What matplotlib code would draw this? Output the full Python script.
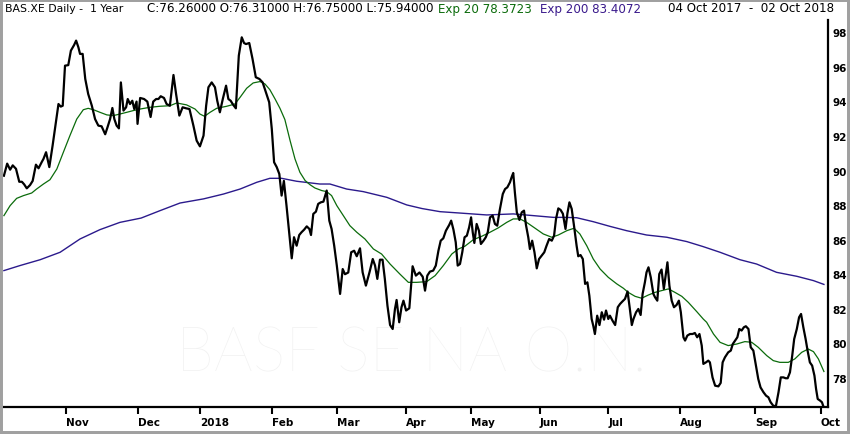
import numpy as np
import pandas as pd
import matplotlib
matplotlib.use('Agg')
import matplotlib.pyplot as plt
from matplotlib.patches import Rectangle

first_day = '2017-10-04'
last_day = '2018-10-02'
closed_days = ['2017-10-31', '2017-12-25', '2017-12-26', '2018-01-01',
               '2018-03-30', '2018-04-02', '2018-05-01', '2018-05-21']

price_ticks = [78, 80, 82, 84, 86, 88, 90, 92, 94, 96, 98]

# close (trading-day number, price)
close_day = [0, 1.0, 1.9, 2.7, 3.7, 4.7, 5.5, 6.2, 7.0, 8.0, 8.8, 9.8, 10.6, 11.6, 12.1, 12.9,
             13.9, 14.9, 15.9, 16.7, 17.4, 18.0, 18.7, 19.7, 20.5, 21.5, 22.1, 22.8, 23.3, 24.1,
             24.9, 25.8, 26.9, 27.9, 28.9, 29.9, 31.0, 31.7, 32.5, 33.2, 33.8, 34.5, 35.2, 35.8,
             36.6, 37.4, 37.9, 38.6, 39.3, 39.9, 40.6, 40.9, 41.7, 42.9, 43.9, 44.9, 45.7, 46.6,
             47.3, 48.0, 49.0, 49.8, 50.8, 51.9, 52.7, 53.7, 54.7, 55.8, 56.8, 58.0, 59.0, 60.0,
             61.1, 61.9, 62.6, 63.6, 64.6, 65.3, 66.1, 67.0, 68.0, 68.7, 69.4, 70.2, 71.0, 71.9,
             72.8, 73.5, 74.1, 75.1, 76.1, 77.1, 78.2, 79.2, 80.2, 81.2, 82.0, 82.7, 83.5, 84.3,
             85.0, 85.7, 86.5, 87.4, 88.1, 88.8, 89.6, 90.4, 91.1, 91.9, 92.7, 93.5, 94.0, 94.7,
             95.5, 96.2, 97.0, 97.8, 98.8, 99.6, 100.3, 101.1, 101.9, 102.9, 103.7, 104.4, 105.4,
             106.3, 107.2, 108.0, 109.0, 109.8, 110.8, 111.9, 112.9, 113.6, 114.3, 115.1, 115.9,
             116.6, 117.4, 118.2, 119.0, 119.7, 120.2, 121.0, 121.7, 122.3, 123.1, 124.1, 125.1,
             126.1, 127.2, 128.2, 128.9, 129.6, 130.4, 131.4, 132.2, 133.0, 133.7, 134.5, 135.3,
             136.3, 136.9, 137.6, 138.3, 138.9, 139.6, 140.3, 141.0, 141.7, 142.4, 143.0, 143.5,
             144.0, 144.7, 145.4, 146.0, 146.8, 147.5, 148.1, 148.8, 149.6, 150.3, 151.0, 151.8,
             152.7, 153.4, 154.1, 154.9, 155.4, 155.9, 156.4, 157.0, 157.8, 158.5, 159.2, 159.8,
             160.5, 161.0, 161.7, 162.4, 163.1, 163.8, 164.6, 165.4, 166.1, 166.9, 167.7, 168.4,
             169.0, 169.7, 170.4, 171.1, 171.9, 172.5, 173.1, 173.8, 174.5, 175.3, 175.8, 176.5,
             177.2, 177.9, 178.6, 179.2, 179.9, 180.4, 180.9, 181.6, 182.3, 183.0, 183.7, 184.3,
             185.0, 185.5, 186.3, 187.1, 187.9, 188.6, 189.3, 190.1, 190.9, 191.6, 192.2, 192.7,
             193.5, 194.2, 194.9, 195.5, 196.2, 196.7, 197.3, 198.0, 198.8, 199.3, 200.0, 200.6,
             201.3, 202.0, 202.7, 203.1, 203.7, 204.4, 205.1, 205.9, 206.6, 207.2, 208.0, 208.5,
             209.2, 210.0, 210.8, 211.5, 212.2, 212.9, 213.6, 214.1, 214.9, 215.6, 216.1, 216.9,
             217.7, 218.7, 219.4, 220.0, 220.7, 221.7, 222.5, 223.1, 223.8, 224.5, 225.1, 225.8,
             226.5, 227.1, 227.9, 228.6, 229.4, 230.2, 230.9, 231.6, 232.5, 233.3, 234.0, 234.7,
             235.5, 236.3, 237.1, 237.8, 238.6, 239.3, 239.9, 240.6, 241.3, 241.9, 242.7, 243.4,
             244.0, 244.7, 245.4, 246.0, 246.7, 247.4, 248.1, 248.6, 249.1, 249.8, 250.4, 251.0]
close_px = [89.7, 90.4, 90.05, 90.3, 90.1, 89.35, 89.35, 89.2, 88.97, 89.16, 89.4, 90.34, 90.13,
            90.5, 90.67, 91.06, 90.2, 91.44, 92.8, 93.85, 93.7, 93.75, 96.07, 96.1, 96.94, 97.27,
            97.52, 97.13, 96.75, 96.75, 95.3, 94.43, 93.76, 92.98, 92.6, 92.56, 92.1, 92.5, 92.98,
            93.62, 92.98, 92.6, 92.44, 95.1, 93.47, 93.66, 94.14, 93.85, 94.04, 93.56, 93.99, 92.7,
            94.2, 94.14, 93.99, 93.1, 93.99, 94.14, 94.14, 94.3, 94.2, 93.85, 93.75, 95.53, 94.43,
            93.18, 93.66, 93.6, 93.56, 92.6, 91.73, 91.4, 92.02, 93.75, 94.82, 95.1, 94.82, 94.04,
            93.37, 94.14, 94.91, 94.14, 94.04, 93.8, 93.6, 96.65, 97.71, 97.38, 97.32, 97.38,
            96.46, 95.4, 95.3, 95.1, 94.53, 93.95, 92.4, 90.48, 90.2, 89.8, 88.55, 89.4, 87.97,
            86.23, 84.92, 86.14, 85.65, 86.27, 86.43, 86.58, 86.77, 86.62, 86.27, 87.49, 87.62,
            88.07, 88.16, 88.2, 88.84, 87.1, 86.62, 85.65, 84.5, 82.86, 84.3, 84.0, 84.1, 85.27,
            85.36, 85.04, 85.5, 84.11, 83.34, 84.11, 84.88, 84.5, 83.73, 84.84, 84.84, 83.73,
            82.18, 81.06, 80.83, 81.99, 82.51, 81.22, 82.09, 82.47, 81.9, 82.03, 84.46, 83.92,
            84.1, 83.85, 83.05, 83.92, 84.15, 84.21, 84.5, 85.36, 85.94, 86.08, 86.52, 86.85,
            87.1, 86.58, 85.85, 84.5, 84.59, 85.27, 86.14, 86.23, 86.71, 87.29, 86.43, 85.81,
            86.91, 86.52, 85.75, 85.94, 86.14, 86.43, 87.29, 87.39, 86.91, 86.81, 87.74, 88.64,
            88.93, 89.03, 89.32, 89.61, 89.86, 88.74, 87.58, 87.14, 87.58, 87.68, 86.85, 86.14,
            85.46, 85.94, 85.27, 84.34, 84.88, 85.08, 85.27, 85.65, 86.04, 85.94, 86.23, 87.2,
            87.81, 87.72, 87.5, 86.62, 87.54, 88.16, 87.78, 86.81, 85.65, 85.04, 85.11, 84.88,
            83.44, 83.53, 82.76, 81.41, 81.02, 80.54, 81.6, 81.06, 81.8, 81.37, 81.9, 81.41,
            81.6, 81.31, 81.06, 82.09, 82.28, 82.42, 82.57, 83.0, 81.99, 81.06, 81.41, 81.8,
            81.99, 81.64, 82.86, 83.53, 84.11, 84.4, 83.82, 82.86, 82.67, 82.47, 84.01, 84.27,
            83.15, 84.11, 84.69, 83.34, 82.47, 82.09, 82.22, 82.47, 81.8, 80.35, 80.16, 80.45,
            80.54, 80.54, 80.6, 80.35, 80.54, 79.87, 78.81, 78.9, 79.0, 78.9, 78.03, 77.55, 77.51,
            77.71, 78.9, 79.19, 79.48, 79.58, 79.96, 80.16, 80.35, 80.83, 80.74, 80.93, 80.99,
            80.83, 79.77, 79.58, 78.71, 77.94, 77.45, 77.17, 76.97, 76.88, 76.59, 76.39, 76.36,
            77.17, 78.03, 78.03, 77.98, 77.98, 78.32, 79.29, 80.25, 80.83, 81.51, 81.7, 80.93,
            80.25, 79.58, 78.9, 78.71, 78.13, 77.36, 76.78, 76.69, 76.59, 76.26]

ema20_day = [0, 1.9, 3.9, 6.0, 8.5, 10.0, 12.1, 14.1, 16.2, 18.2, 20.2, 22.3, 24.3, 25.8, 27.4,
             29.4, 31.5, 33.5, 35.5, 37.6, 39.6, 41.7, 44.7, 47.8, 50.8, 52.9, 55.9, 58.5, 60.0,
             61.4, 63.1, 65.1, 68.2, 70.7, 72.3, 74.3, 76.3, 78.4, 79.9, 81.4, 83.0, 84.5, 86.0,
             87.6, 89.1, 90.6, 92.2, 93.7, 95.2, 97.3, 98.8, 100.3, 101.9, 103.9, 105.9, 108.0,
             110.5, 113.1, 115.6, 118.2, 121.2, 123.8, 126.3, 129.4, 132.0, 134.5, 137.1, 139.1,
             141.1, 143.7, 146.2, 148.8, 151.3, 153.9, 155.9, 158.0, 160.0, 162.6, 165.1, 167.7,
             169.7, 172.3, 174.5, 176.3, 178.4, 180.4, 182.5, 185.0, 187.6, 189.6, 191.1, 193.2,
             195.2, 197.3, 199.3, 201.3, 203.4, 205.4, 207.5, 209.5, 212.1, 214.1, 215.1, 217.2,
             219.2, 221.7, 224.3, 226.8, 228.9, 230.9, 233.5, 235.5, 237.5, 240.1, 242.1, 244.2,
             246.2, 247.8, 249.3, 251.0]
ema20_px = [87.39, 87.97, 88.39, 88.55, 88.7, 88.93, 89.22, 89.47, 90.09, 91.06, 92.02, 92.98,
            93.52, 93.6, 93.52, 93.37, 93.22, 93.18, 93.27, 93.37, 93.47, 93.56, 93.66, 93.72,
            93.75, 93.91, 93.8, 93.56, 93.27, 93.14, 93.37, 93.6, 93.72, 93.85, 94.24, 94.76,
            95.07, 95.15, 95.01, 94.68, 94.14, 93.6, 92.95, 91.73, 90.67, 89.9, 89.42, 89.18,
            88.99, 88.84, 88.78, 88.55, 87.97, 87.39, 86.81, 86.43, 86.04, 85.46, 85.17, 84.59,
            84.01, 83.53, 83.53, 83.57, 83.92, 84.5, 85.17, 85.46, 85.62, 86.0, 86.19, 86.43,
            86.68, 87.0, 87.2, 87.2, 87.0, 86.66, 86.33, 86.14, 86.27, 86.52, 86.66, 86.33, 85.65,
            84.88, 84.3, 83.82, 83.44, 83.19, 82.95, 82.72, 82.61, 82.8, 82.95, 83.05, 83.15,
            82.95, 82.72, 82.37, 81.83, 81.4, 81.22, 80.54, 80.06, 79.87, 79.96, 80.1, 80.06,
            79.77, 79.29, 79.0, 78.9, 78.9, 79.1, 79.48, 79.67, 79.52, 79.1, 78.37]

ema200_day = [0, 4.9, 11.1, 17.2, 23.3, 29.4, 35.5, 42.0, 47.8, 53.9, 61.1, 67.2, 72.3, 77.4,
              81.4, 85.0, 89.6, 96.7, 99.8, 104.9, 110.0, 117.2, 123.3, 128.0, 133.5, 139.6,
              147.8, 155.9, 162.1, 168.2, 171.5, 175.3, 180.4, 185.5, 190.6, 196.7, 202.9, 209.0,
              214.0, 219.2, 225.3, 230.4, 236.5, 242.7, 247.8, 251.0]
ema200_px = [84.21, 84.5, 84.84, 85.27, 86.04, 86.58, 87.0, 87.25, 87.68, 88.12, 88.36, 88.64,
             88.93, 89.32, 89.55, 89.55, 89.38, 89.22, 89.22, 88.93, 88.78, 88.45, 88.01, 87.8,
             87.62, 87.54, 87.43, 87.49, 87.39, 87.29, 87.29, 87.27, 87.04, 86.77, 86.52, 86.27,
             86.14, 85.89, 85.6, 85.27, 84.84, 84.59, 84.11, 83.88, 83.63, 83.41]

# trading calendar, used for the month ticks
days = pd.bdate_range(first_day, last_day)
days = days[~days.isin(pd.to_datetime(closed_days))]
month_key = days.year * 12 + days.month
month_start = np.flatnonzero(np.diff(month_key)) + 1
month_labels = ['2018' if days[i].month == 1 else days[i].strftime('%b') for i in month_start]

W, H = 850, 435
fig = plt.figure(figsize=(W / 100, H / 100), dpi=100)
fig.patch.set_facecolor('white')

ax = fig.add_axes([3 / W, (H - 408) / H, 825 / W, 387 / H])
ax.set_facecolor('white')

ax.text(0.495, 0.137, 'BASF SE NA O.N.', transform=ax.transAxes, ha='center', va='center',
        fontsize=44, color='#f1f1f1', family='Lato', weight='light', zorder=0)

ax.plot(ema200_day, ema200_px, color='#2b1a8c', lw=1.0, zorder=2)
ax.plot(ema20_day, ema20_px, color='#0b6b0b', lw=0.9, zorder=3)
ax.plot(close_day, close_px, color='black', lw=1.6, zorder=4)

ax.set_xlim(-0.28, 252.25)
ax.set_ylim(76.316, 98.712)

for s in ['left', 'top']:
    ax.spines[s].set_visible(False)
for s in ['bottom', 'right']:
    ax.spines[s].set_linewidth(1.6)
    ax.spines[s].set_color('black')

ax.yaxis.tick_right()
ax.set_yticks(price_ticks)
ax.set_yticklabels([str(v) for v in price_ticks])
ax.tick_params(axis='y', length=0, pad=3, labelsize=7.5, labelcolor='black')
for lab in ax.get_yticklabels():
    lab.set_fontweight('bold')

ax.set_xticks(month_start)
ax.set_xticklabels(month_labels, ha='left')
ax.tick_params(axis='x', direction='out', length=5, width=1.5, pad=2, labelsize=7.5)
for lab in ax.get_xticklabels():
    lab.set_fontweight('bold')

ty = 1 - 12.5 / H
fs = 8.6
fig.text(5 / W, ty, 'BAS.XE Daily -  1 Year', fontsize=7.8, va='baseline', color='black')
fig.text(147 / W, ty, 'C:76.26000 O:76.31000 H:76.75000 L:75.94000', fontsize=fs,
         va='baseline', color='black')
fig.text(438 / W, ty, 'Exp 20 78.3723', fontsize=fs, va='baseline', color='#0b6b0b')
fig.text(540 / W, ty, 'Exp 200 83.4072', fontsize=fs, va='baseline', color='#3a1a8c')
fig.text(668 / W, ty, '04 Oct 2017  -  02 Oct 2018', fontsize=fs, va='baseline', color='black')

fig.patches.append(Rectangle((0, 0), 1, 1, transform=fig.transFigure, fill=False,
                             edgecolor='#a0a0a0', lw=4.3, zorder=10))

fig.savefig('out.png', dpi=100)
